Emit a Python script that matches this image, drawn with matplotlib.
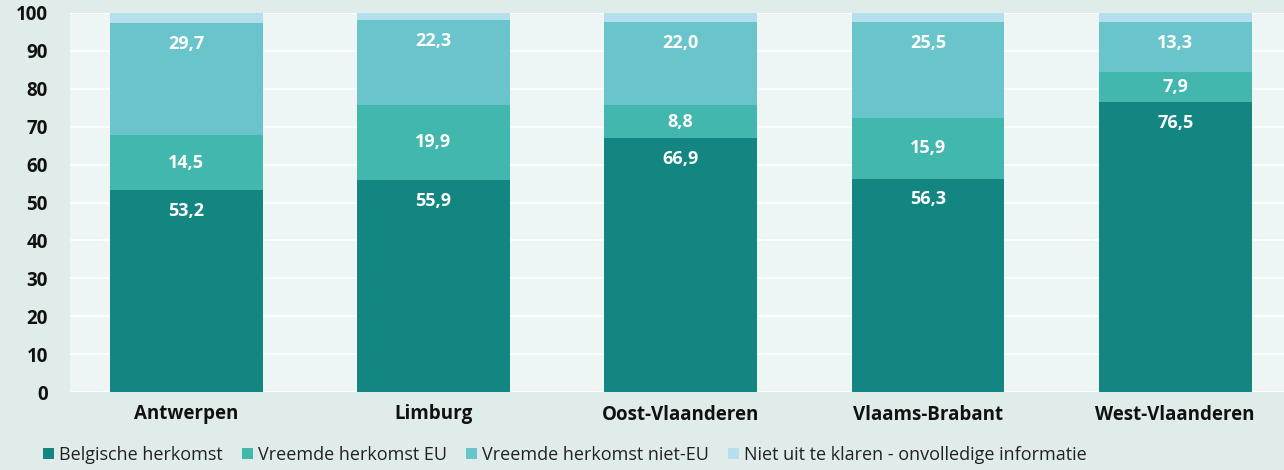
import matplotlib
matplotlib.use("Agg")
from matplotlib import pyplot as plt
from matplotlib.patches import Patch

# provinces and percentages per origin group
provinces = ['Antwerpen', 'Limburg', 'Oost-Vlaanderen', 'Vlaams-Brabant', 'West-Vlaanderen']
belgisch = [53.2, 55.9, 66.9, 56.3, 76.5]
eu = [14.5, 19.9, 8.8, 15.9, 7.9]
niet_eu = [29.7, 22.3, 22.0, 25.5, 13.3]
onbekend = [2.6, 1.9, 2.3, 2.3, 2.3]

series_names = ['Belgische herkomst', 'Vreemde herkomst EU',
                'Vreemde herkomst niet-EU', 'Niet uit te klaren - onvolledige informatie']
series_vals = [belgisch, eu, niet_eu, onbekend]
colors = ['#138682', '#42b7ad', '#6ac4cc', '#b5dfec']
# where the value label goes: near the top, centred, or none
label_mode = ['top', 'center', 'top', None]

plt.rcParams['font.family'] = ['Open Sans', 'DejaVu Sans']

fig = plt.figure(figsize=(12.84, 4.70), dpi=100, facecolor='#e0ecea')
ax = fig.add_axes([70 / 1284, 1 - 392 / 470, 1 - 70 / 1284, 379 / 470])
ax.set_facecolor('#eef6f5')

x = range(len(provinces))
bottom = [0.0] * len(provinces)
for name, vals, col, mode in zip(series_names, series_vals, colors, label_mode):
    bars = ax.bar(x, vals, bottom=bottom, width=0.618, color=col, zorder=2)
    if mode:
        for b, v in zip(bars, vals):
            cx = b.get_x() + b.get_width() / 2
            txt = f'{v:.1f}'.replace('.', ',')
            if mode == 'top':
                ax.annotate(txt, (cx, b.get_y() + b.get_height()),
                            xytext=(0, -15), textcoords='offset points', ha='center', va='center',
                            color='white', fontsize=13, fontweight='bold', zorder=3)
            else:
                ax.text(cx, b.get_y() + b.get_height() / 2, txt, ha='center', va='center',
                        color='white', fontsize=13, fontweight='bold', zorder=3)
    bottom = [b + v for b, v in zip(bottom, vals)]

ax.set_xlim(-0.47, 4.44)
ax.set_ylim(0, 100)
ax.set_yticks(range(0, 101, 10))
ax.grid(axis='y', color='white', linewidth=1.2, zorder=1)
for s in ax.spines.values():
    s.set_visible(False)
ax.tick_params(length=0)
ax.tick_params(axis='y', pad=16, labelsize=13.5)
ax.tick_params(axis='x', pad=9, labelsize=13.5)
ax.set_xticks(list(x))
ax.set_xticklabels(provinces)
for t in ax.get_yticklabels() + ax.get_xticklabels():
    t.set_fontweight('bold')
    t.set_color('#111111')

handles = [Patch(facecolor=c, edgecolor='none') for c in colors]
fig.legend(handles, series_names, loc='lower left', bbox_to_anchor=(0.021, -0.022),
           ncol=4, frameon=False, fontsize=13, handlelength=0.6, handleheight=0.6,
           handletextpad=0.25, columnspacing=1.1, labelcolor='#222222')

fig.savefig('out.png', dpi=100, facecolor=fig.get_facecolor())
